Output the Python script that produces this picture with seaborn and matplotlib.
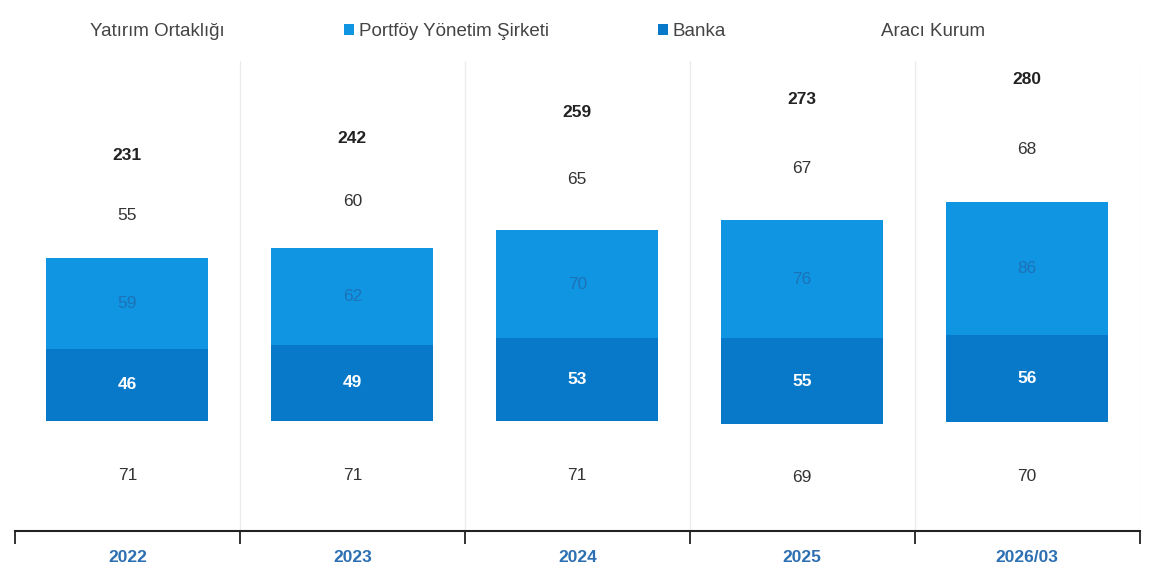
import numpy as np
import pandas as pd
import seaborn as sns
import matplotlib.pyplot as plt
from matplotlib.patches import Patch

years = ['2022', '2023', '2024', '2025', '2026/03']
yatirim_ortakligi = [71, 71, 71, 69, 70]
banka = [46, 49, 53, 55, 56]
portfoy = [59, 62, 70, 76, 86]
araci_kurum = [55, 60, 65, 67, 68]
toplam = [231, 242, 259, 273, 280]

light_blue = '#0f95e2'
dark_blue = '#0878c8'

sns.set_theme(style='white')
plt.rcParams['font.family'] = ['Liberation Sans', 'DejaVu Sans']

df = pd.DataFrame({
    'yil': years,
    'yo': yatirim_ortakligi,
    'banka': banka,
    'pys': portfoy,
    'ak': araci_kurum,
})
df['c1'] = df['yo']
df['c2'] = df['c1'] + df['banka']
df['c3'] = df['c2'] + df['pys']
df['c4'] = df['c3'] + df['ak']

fig = plt.figure(figsize=(11.5, 5.77), dpi=100)
ax = fig.add_axes([0.013, 0.08, 0.978, 0.815])

# stacked bars drawn as overlapping cumulative bars (tallest first)
w = 0.72
for col, c in [('c4', 'white'), ('c3', light_blue), ('c2', dark_blue), ('c1', 'white')]:
    sns.barplot(data=df, x='yil', y=col, color=c, saturation=1, width=w,
                linewidth=0, ax=ax)

# faint separators between categories
for xb in np.arange(0.5, len(years), 1):
    ax.axvline(xb, color='#ececec', lw=1, zorder=0)

fs = 12.5
for i in range(len(years)):
    ax.text(i, df['c1'][i] / 2, str(yatirim_ortakligi[i]), ha='center', va='center',
            fontsize=fs, color='#333333')
    ax.text(i, df['c1'][i] + banka[i] / 2, str(banka[i]), ha='center', va='center',
            fontsize=fs, color='white', fontweight='bold')
    ax.text(i, df['c2'][i] + portfoy[i] / 2, str(portfoy[i]), ha='center', va='center',
            fontsize=fs, color='#1d72b8')
    ax.text(i, df['c3'][i] + araci_kurum[i] / 2, str(araci_kurum[i]), ha='center', va='center',
            fontsize=fs, color='#333333')
    ax.text(i, df['c4'][i] + 6, str(toplam[i]), ha='center', va='bottom',
            fontsize=fs, color='#222222', fontweight='bold')

ax.set_xlim(-0.5, len(years) - 0.5)
ax.set_ylim(0, 303)
ax.set_xlabel('')
ax.set_ylabel('')
ax.set_yticks([])
for s in ['top', 'right', 'left']:
    ax.spines[s].set_visible(False)
ax.spines['bottom'].set_color('#222222')
ax.spines['bottom'].set_linewidth(1.5)

ax.set_xticks(range(len(years)))
ax.set_xticklabels(years, color='#2c6fb2', fontsize=12.5, fontweight='bold')
ax.set_xticks(np.arange(-0.5, len(years), 1), minor=True)
ax.tick_params(axis='x', which='major', length=0, pad=14)
ax.tick_params(axis='x', which='minor', length=9, width=1.3, color='#222222', bottom=True)

# legend entries placed one by one along the top
legend_labels = ['Yatırım Ortaklığı', 'Portföy Yönetim Şirketi', 'Banka', 'Aracı Kurum']
legend_colors = ['white', light_blue, dark_blue, 'white']
legend_x = [0.060, 0.294, 0.567, 0.748]
for lab, c, lx in zip(legend_labels, legend_colors, legend_x):
    fig.legend([Patch(facecolor=c, edgecolor='none')], [lab], loc='upper left',
               bbox_to_anchor=(lx, 0.97), frameon=False, fontsize=13.5,
               handlelength=0.55, handleheight=0.55, handletextpad=0.25,
               labelcolor='#444444', borderaxespad=0, borderpad=0.3)

fig.savefig('out.png', dpi=100)
